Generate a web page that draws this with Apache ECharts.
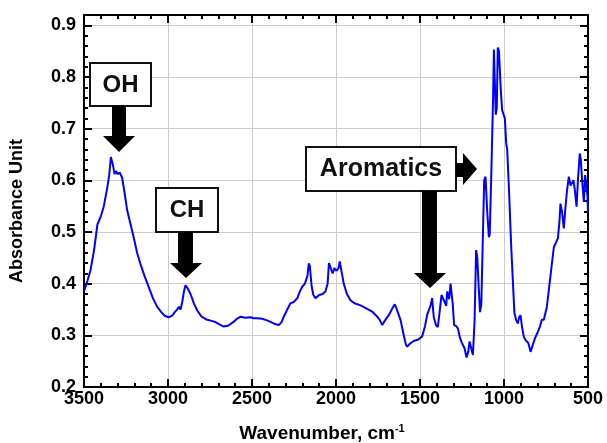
<!DOCTYPE html>
<html>
<head>
<meta charset="utf-8">
<script src="https://cdn.jsdelivr.net/npm/echarts@6/dist/echarts.min.js"></script>
<style>
html,body{margin:0;padding:0;background:#fff;}
#chart{width:607px;height:443px;}
</style>
</head>
<body>
<div id="chart"></div>
<script>
// Wavenumbers (cm^-1) and absorbance values
const wavenumbers = [3500,3480,3462,3440,3420,3400,3382,3362,3350,3340,3335,3328,3318,3310,3300,3287,3273,3258,3243,3223,3203,3184,3164,3140,3114,3090,3064,3040,3020,2995,2975,2960,2945,2935,2925,2915,2905,2896,2885,2866,2846,2826,2800,2767,2740,2720,2700,2668,2640,2610,2590,2568,2540,2510,2490,2469,2440,2410,2390,2365,2340,2325,2311,2290,2271,2250,2230,2215,2201,2185,2170,2162,2156,2145,2135,2122,2100,2080,2063,2050,2042,2033,2020,2010,1997,1985,1978,1965,1954,1935,1914,1890,1854,1820,1785,1760,1740,1725,1710,1686,1665,1650,1640,1616,1600,1584,1576,1560,1537,1510,1487,1470,1457,1448,1435,1428,1418,1405,1394,1385,1372,1362,1354,1344,1338,1327,1318,1313,1305,1297,1285,1274,1262,1250,1235,1223,1213,1205,1195,1185,1175,1166,1159,1150,1143,1135,1128,1118,1110,1100,1090,1085,1075,1065,1060,1055,1049,1043,1037,1030,1020,1011,1003,995,987,981,970,957,945,938,928,918,910,902,892,882,870,855,842,830,815,802,785,775,763,745,733,718,703,690,679,670,664,655,644,635,625,614,604,594,586,578,568,560,549,543,535,525,517,509,503,500];
const absorbance = [0.385,0.405,0.425,0.465,0.515,0.530,0.550,0.585,0.610,0.645,0.648,0.630,0.612,0.618,0.612,0.615,0.605,0.575,0.542,0.515,0.488,0.460,0.438,0.415,0.393,0.372,0.355,0.345,0.338,0.335,0.338,0.345,0.350,0.355,0.350,0.365,0.385,0.397,0.392,0.380,0.362,0.348,0.336,0.330,0.328,0.326,0.322,0.317,0.319,0.326,0.332,0.336,0.334,0.335,0.333,0.333,0.332,0.329,0.326,0.322,0.320,0.325,0.336,0.350,0.362,0.365,0.372,0.385,0.394,0.400,0.415,0.439,0.435,0.395,0.378,0.372,0.378,0.380,0.385,0.400,0.440,0.442,0.420,0.430,0.425,0.430,0.443,0.420,0.400,0.380,0.368,0.362,0.358,0.352,0.346,0.338,0.330,0.320,0.328,0.339,0.352,0.360,0.352,0.330,0.305,0.282,0.278,0.284,0.289,0.292,0.298,0.318,0.340,0.342,0.360,0.372,0.335,0.320,0.316,0.340,0.378,0.376,0.365,0.357,0.385,0.370,0.400,0.403,0.360,0.320,0.318,0.313,0.295,0.285,0.275,0.257,0.268,0.288,0.275,0.262,0.330,0.465,0.450,0.390,0.345,0.360,0.460,0.600,0.607,0.540,0.490,0.495,0.620,0.760,0.853,0.855,0.727,0.740,0.857,0.850,0.780,0.736,0.728,0.720,0.672,0.660,0.580,0.471,0.390,0.343,0.330,0.323,0.335,0.339,0.315,0.297,0.290,0.285,0.268,0.280,0.295,0.304,0.318,0.330,0.330,0.355,0.388,0.430,0.471,0.480,0.488,0.520,0.555,0.540,0.507,0.545,0.580,0.607,0.590,0.587,0.600,0.580,0.549,0.600,0.652,0.640,0.600,0.558,0.610,0.613,0.570,0.536];
const xTicks = [500, 1000, 1500, 2000, 2500, 3000, 3500];
const yTicks = [0.2, 0.3, 0.4, 0.5, 0.6, 0.7, 0.8, 0.9];
const annotations = ['OH', 'CH', 'Aromatics'];

const FONT = "'Liberation Sans', Arial, sans-serif";
const seriesData = wavenumbers.map((w, i) => [w, absorbance[i]]);

const chart = echarts.init(document.getElementById('chart'), null, {renderer: 'canvas'});

const frameLine = {show: true, onZero: false, lineStyle: {color: '#000', width: 2}};
const xBase = {type: 'value', min: xTicks[0], max: xTicks[xTicks.length - 1], interval: 500, inverse: true};
const yMajor = {type: 'value', min: yTicks[0], max: 0.92, interval: 0.1};
const yMinor = {type: 'value', min: yTicks[0], max: 0.92, interval: 0.02};

const option = {
  animation: false,
  backgroundColor: '#fff',
  grid: {left: 84, right: 19, top: 15, bottom: 56, containLabel: false, outerBoundsMode: 'none'},
  xAxis: [
    Object.assign({}, xBase, {
      position: 'bottom',
      axisLine: frameLine,
      axisTick: {show: true, inside: true, length: 8, lineStyle: {color: '#000', width: 2}},
      minorTick: {show: true, splitNumber: 5, length: 4, lineStyle: {color: '#000', width: 2}},
      splitLine: {show: true, lineStyle: {color: '#cccccc', width: 1}},
      axisLabel: {show: true, margin: 3, color: '#000', fontFamily: FONT, fontWeight: 'bold', fontSize: 18,
        formatter: v => String(Math.round(v))},
      name: '{a|Wavenumber, cm}{b|-1}',
      nameLocation: 'middle',
      nameGap: 36,
      nameTextStyle: {
        padding: [0, 28, 0, 0],
        rich: {
          a: {fontFamily: FONT, fontWeight: 'bold', fontSize: 19, color: '#000', lineHeight: 22},
          b: {fontFamily: FONT, fontWeight: 'bold', fontSize: 11, color: '#000', lineHeight: 12, verticalAlign: 'top'}
        }
      }
    }),
    Object.assign({}, xBase, {
      position: 'top',
      axisLine: frameLine,
      axisTick: {show: true, inside: true, length: 8, lineStyle: {color: '#000', width: 2}},
      minorTick: {show: true, splitNumber: 5, length: 4, lineStyle: {color: '#000', width: 2}},
      splitLine: {show: false},
      axisLabel: {show: false}
    })
  ],
  yAxis: [
    Object.assign({}, yMajor, {
      position: 'left',
      axisLine: frameLine,
      axisTick: {show: true, inside: true, length: 8, lineStyle: {color: '#000', width: 2}},
      splitLine: {show: true, lineStyle: {color: '#cccccc', width: 1}},
      axisLabel: {show: true, showMaxLabel: false, margin: 8, color: '#000', fontFamily: FONT, fontWeight: 'bold', fontSize: 18,
        formatter: v => (yTicks.some(t => Math.abs(t - v) < 1e-6) ? v.toFixed(1) : '')},
      name: 'Absorbance Unit',
      nameLocation: 'middle',
      nameGap: 58,
      nameTextStyle: {fontFamily: FONT, fontWeight: 'bold', fontSize: 18, color: '#000', padding: [0, 20, 0, 0]}
    }),
    Object.assign({}, yMinor, {
      position: 'left',
      axisLine: {show: false, onZero: false},
      axisTick: {show: true, inside: true, length: 4, lineStyle: {color: '#000', width: 2}},
      splitLine: {show: false},
      axisLabel: {show: false}
    }),
    Object.assign({}, yMajor, {
      position: 'right',
      axisLine: frameLine,
      axisTick: {show: true, inside: true, length: 8, lineStyle: {color: '#000', width: 2}},
      splitLine: {show: false},
      axisLabel: {show: false}
    }),
    Object.assign({}, yMinor, {
      position: 'right',
      axisLine: {show: false, onZero: false},
      axisTick: {show: true, inside: true, length: 4, lineStyle: {color: '#000', width: 2}},
      splitLine: {show: false},
      axisLabel: {show: false}
    })
  ],
  series: [{
    type: 'line',
    xAxisIndex: 0,
    yAxisIndex: 0,
    data: seriesData,
    showSymbol: false,
    symbol: 'none',
    smooth: false,
    lineStyle: {color: '#0000ff', width: 2},
    z: 3
  }],
  graphic: [
    // OH label + arrow
    {type: 'rect', shape: {x: 90, y: 63, width: 61, height: 43}, style: {fill: '#fff', stroke: '#111', lineWidth: 2}, z: 10},
    {type: 'text', x: 120.5, y: 85, style: {text: annotations[0], fill: '#111', font: "bold 24px " + FONT, align: 'center', verticalAlign: 'middle'}, z: 11},
    {type: 'polygon', shape: {points: [[112,106],[126,106],[126,136],[135,136],[119,152],[103,136],[112,136]]}, style: {fill: '#000'}, z: 10},
    // CH label + arrow
    {type: 'rect', shape: {x: 156, y: 188, width: 62, height: 44}, style: {fill: '#fff', stroke: '#111', lineWidth: 2}, z: 10},
    {type: 'text', x: 187, y: 210.5, style: {text: annotations[1], fill: '#111', font: "bold 24px " + FONT, align: 'center', verticalAlign: 'middle'}, z: 11},
    {type: 'polygon', shape: {points: [[178,232],[193,232],[193,263],[202,263],[186,278],[170,263],[178,263]]}, style: {fill: '#000'}, z: 10},
    // Aromatics label + arrows
    {type: 'rect', shape: {x: 306, y: 147, width: 150, height: 44}, style: {fill: '#fff', stroke: '#111', lineWidth: 2}, z: 10},
    {type: 'text', x: 381, y: 169.5, style: {text: annotations[2], fill: '#111', font: "bold 25px " + FONT, align: 'center', verticalAlign: 'middle'}, z: 11},
    {type: 'polygon', shape: {points: [[422,191],[437,191],[437,273],[446,273],[430,288],[414,273],[422,273]]}, style: {fill: '#000'}, z: 10},
    {type: 'polygon', shape: {points: [[456,163],[463,163],[463,153],[477,169],[463,185],[463,177],[456,177]]}, style: {fill: '#000'}, z: 10}
  ]
};

chart.setOption(option);
</script>
</body>
</html>
